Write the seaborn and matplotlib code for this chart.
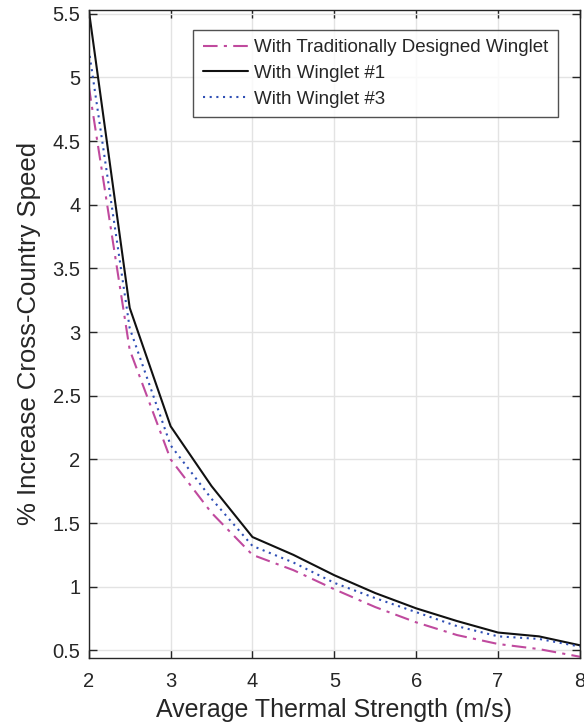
import numpy as np
import pandas as pd
import seaborn as sns
import matplotlib.pyplot as plt

thermal = [2, 2.5, 3, 3.5, 4, 4.5, 5, 5.5, 6, 6.5, 7, 7.5, 8]
trad = [4.93, 2.86, 2.00, 1.58, 1.25, 1.13, 0.98, 0.84, 0.72, 0.62, 0.55, 0.51, 0.45]
wing1 = [5.53, 3.19, 2.26, 1.79, 1.39, 1.25, 1.09, 0.95, 0.83, 0.73, 0.64, 0.61, 0.54]
wing3 = [5.22, 3.03, 2.11, 1.69, 1.32, 1.19, 1.03, 0.91, 0.80, 0.69, 0.61, 0.59, 0.53]

names = ['With Traditionally Designed Winglet', 'With Winglet #1', 'With Winglet #3']
colors = ['#c04a9e', '#111111', '#2f4fb5']
styles = [(0, (7, 3, 1.5, 3)), '-', (0, (1, 2.2))]

sns.set_style('whitegrid')
plt.rcParams['font.family'] = ['Liberation Sans', 'DejaVu Sans']
txt = '#262626'

fig = plt.figure(figsize=(5.84, 7.25), dpi=100)
ax = fig.add_axes([0.152, 0.0924, 0.841, 0.894])

for name, vals, c, ls in zip(names, [trad, wing1, wing3], colors, styles):
    df = pd.DataFrame({'x': thermal, 'y': vals})
    sns.lineplot(data=df, x='x', y='y', ax=ax, color=c, linestyle=ls,
                 linewidth=1.5, label=name)

ax.set_xlim(2, 8)
ax.set_ylim(0.44, 5.53)
ax.set_xticks(np.arange(2, 9, 1))
ax.set_yticks(np.arange(0.5, 5.51, 0.5))
ax.yaxis.set_major_formatter(plt.FuncFormatter(lambda v, p: ('%g' % v)))
ax.grid(True, color='#e3e3e3', linewidth=1.0)
for s in ax.spines.values():
    s.set_color('#262626')
    s.set_linewidth(1.0)
ax.tick_params(direction='in', length=6, width=1, colors=txt, labelsize=14.5,
               top=True, right=True, bottom=True, left=True)
ax.tick_params(axis='x', pad=10)
ax.tick_params(axis='y', pad=6)
ax.set_xlabel('Average Thermal Strength (m/s)', fontsize=18, color=txt, labelpad=5)
ax.set_ylabel('% Increase Cross-Country Speed', fontsize=18.5, color=txt, labelpad=8)

leg = ax.legend(loc='upper right', bbox_to_anchor=(0.955, 0.969), fontsize=13.5,
                frameon=True, fancybox=False, handlelength=2.4, handletextpad=0.35,
                borderpad=0.5, labelspacing=0.45, borderaxespad=0)
leg.get_frame().set_edgecolor('#262626')
leg.get_frame().set_linewidth(1.0)
for t in leg.get_texts():
    t.set_color(txt)

fig.savefig('out.png', dpi=100)
